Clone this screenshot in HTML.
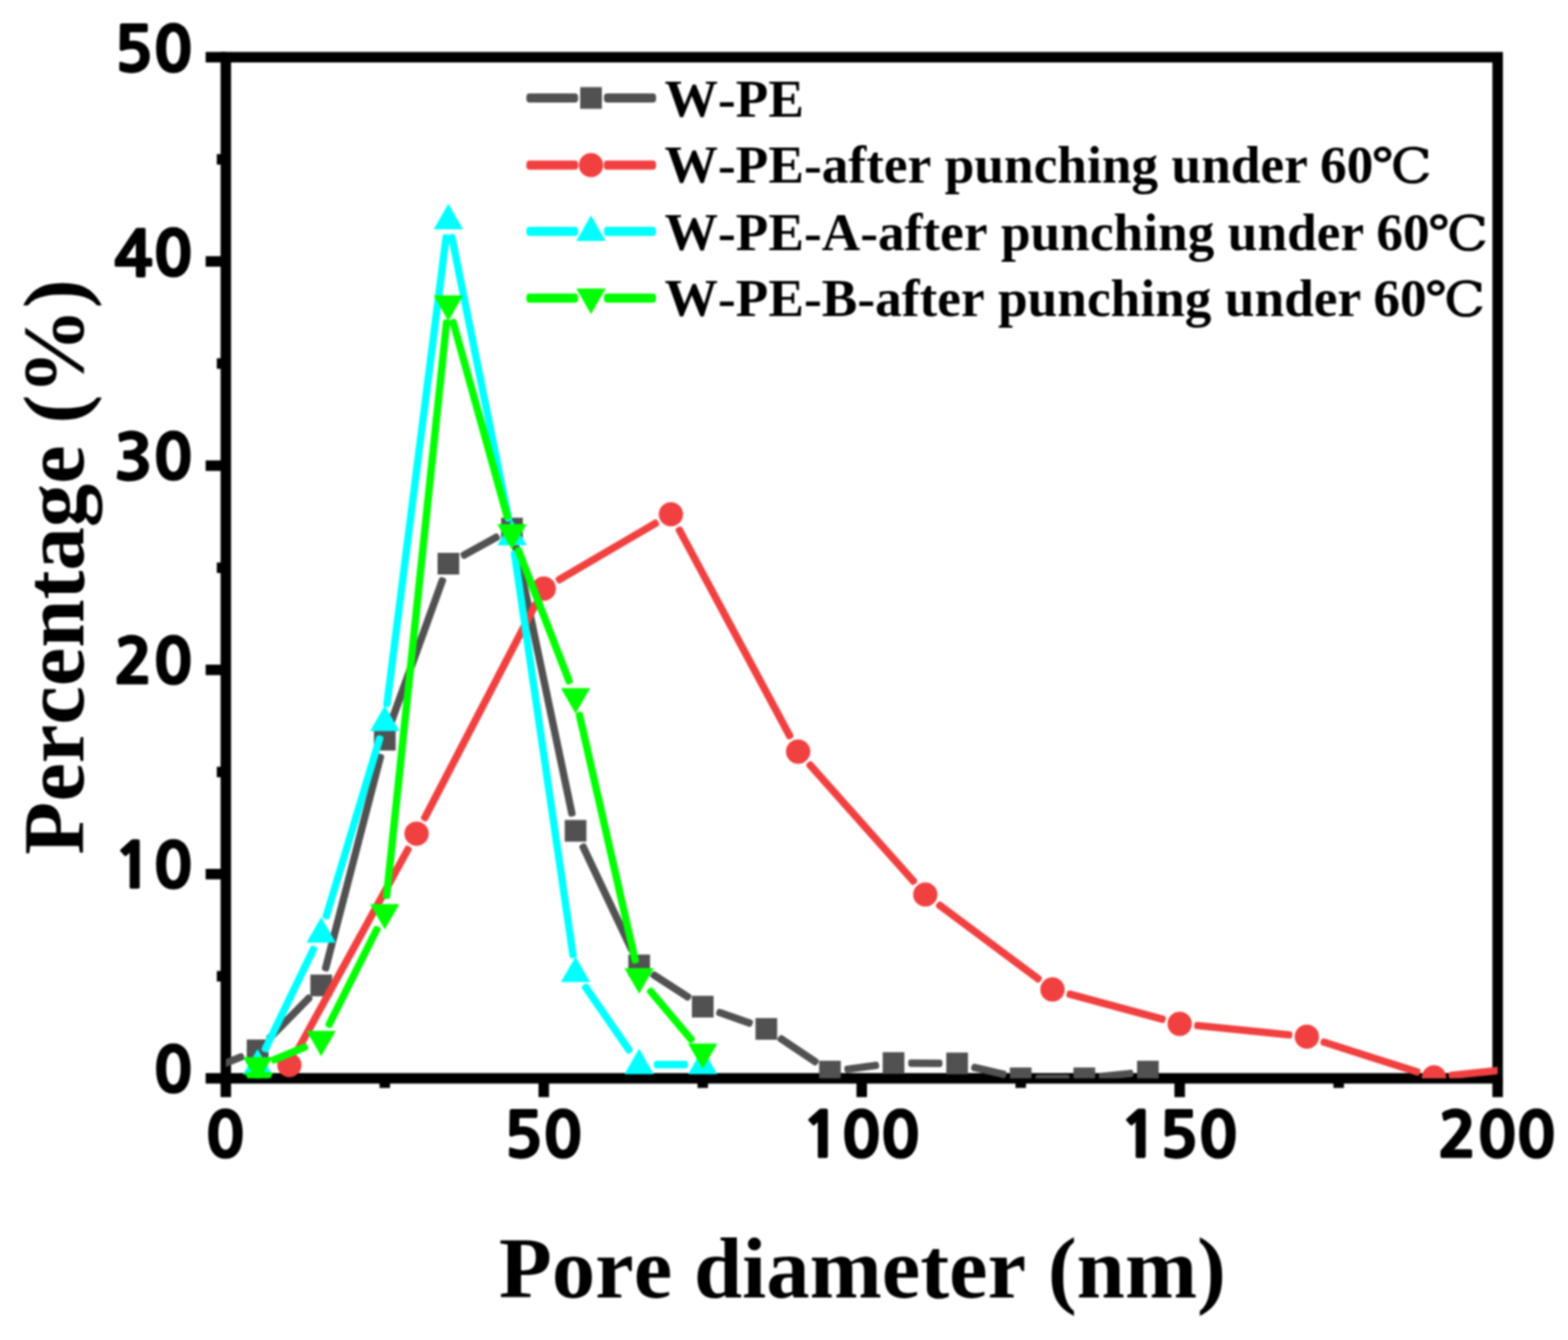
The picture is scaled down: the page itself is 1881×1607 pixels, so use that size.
<!DOCTYPE html>
<html lang="en"><head><meta charset="utf-8"><title>Pore diameter distribution</title>
<style>
html,body{margin:0;padding:0;background:#fff;}
body{width:1881px;height:1607px;overflow:hidden;}
svg{display:block;filter:blur(0.8px);}
.tick{font-family:"NanumGothic","Liberation Sans",sans-serif;font-weight:800;font-size:74.6px;fill:#000;stroke:#000;stroke-width:1.4px;stroke-linejoin:round;}
.lab{font-family:"Liberation Serif","DejaVu Serif",serif;font-weight:bold;font-size:104px;font-kerning:none;fill:#000;}
.leg{font-family:"Liberation Serif","DejaVu Serif",serif;font-weight:bold;font-size:64px;font-kerning:none;fill:#000;}
.deg{font-family:"Liberation Serif","DejaVu Serif","Noto Serif CJK SC",serif;font-weight:normal;font-size:57.5px;stroke:#000;stroke-width:1px;}
</style></head><body>
<svg width="1881" height="1607" viewBox="0 0 1881 1607">
<rect width="1881" height="1607" fill="#fff"/>
<defs><clipPath id="plot"><rect x="270.9" y="68.6" width="1525.7" height="1224.6"/></clipPath></defs>
<g stroke="#000" stroke-width="12.6" fill="none" stroke-linecap="butt">
<rect x="270.9" y="68.6" width="1525.7" height="1224.6"/>
<line x1="246.7" y1="1293.2" x2="270.9" y2="1293.2"/>
<line x1="260.1" y1="1170.74" x2="270.9" y2="1170.74"/>
<line x1="246.7" y1="1048.28" x2="270.9" y2="1048.28"/>
<line x1="260.1" y1="925.82" x2="270.9" y2="925.82"/>
<line x1="246.7" y1="803.36" x2="270.9" y2="803.36"/>
<line x1="260.1" y1="680.9" x2="270.9" y2="680.9"/>
<line x1="246.7" y1="558.44" x2="270.9" y2="558.44"/>
<line x1="260.1" y1="435.98" x2="270.9" y2="435.98"/>
<line x1="246.7" y1="313.52" x2="270.9" y2="313.52"/>
<line x1="260.1" y1="191.06" x2="270.9" y2="191.06"/>
<line x1="246.7" y1="68.6" x2="270.9" y2="68.6"/>
<line x1="270.9" y1="1293.2" x2="270.9" y2="1315.7"/>
<line x1="461.61" y1="1293.2" x2="461.61" y2="1304.7"/>
<line x1="652.32" y1="1293.2" x2="652.32" y2="1315.7"/>
<line x1="843.04" y1="1293.2" x2="843.04" y2="1304.7"/>
<line x1="1033.75" y1="1293.2" x2="1033.75" y2="1315.7"/>
<line x1="1224.46" y1="1293.2" x2="1224.46" y2="1304.7"/>
<line x1="1415.17" y1="1293.2" x2="1415.17" y2="1315.7"/>
<line x1="1605.89" y1="1293.2" x2="1605.89" y2="1304.7"/>
<line x1="1796.6" y1="1293.2" x2="1796.6" y2="1315.7"/>
</g>
<g class="tick">
<text transform="translate(230.6,1310.2) scale(1.04,1)" text-anchor="end">0</text>
<text transform="translate(230.6,1065.28) scale(1.04,1)" text-anchor="end">10</text>
<text transform="translate(230.6,820.36) scale(1.04,1)" text-anchor="end">20</text>
<text transform="translate(230.6,575.44) scale(1.04,1)" text-anchor="end">30</text>
<text transform="translate(230.6,330.52) scale(1.04,1)" text-anchor="end">40</text>
<text transform="translate(230.6,85.6) scale(1.04,1)" text-anchor="end">50</text>
<text transform="translate(269.6,1388.4) scale(1.04,1)" text-anchor="middle">0</text>
<text transform="translate(651.02,1388.4) scale(1.04,1)" text-anchor="middle">50</text>
<text transform="translate(1032.45,1388.4) scale(1.04,1)" text-anchor="middle">100</text>
<text transform="translate(1413.87,1388.4) scale(1.04,1)" text-anchor="middle">150</text>
<text transform="translate(1795.3,1388.4) scale(1.04,1)" text-anchor="middle">200</text>
</g>
<text class="lab" x="598.6" y="1556.2">Pore diameter (nm)</text>
<text class="lab" transform="translate(100,1024.9) rotate(-90)">Percentage (%)</text>
<g clip-path="url(#plot)">
<g fill="#515151">
<rect y="-4.45" width="46.91" height="8.9" rx="3.4" transform="translate(249.11,1283.51) rotate(-21.71)"/>
<rect y="-4.45" width="73.82" height="8.9" rx="3.4" transform="translate(321.36,1247.07) rotate(-45.59)"/>
<rect y="-4.45" width="269.15" height="8.9" rx="3.4" transform="translate(389.74,1164.72) rotate(-75.48)"/>
<rect y="-4.45" width="189.28" height="8.9" rx="3.4" transform="translate(467.59,870.57) rotate(-70.13)"/>
<rect y="-4.45" width="51.94" height="8.9" rx="3.4" transform="translate(553.3,667.49) rotate(-28.91)"/>
<rect y="-4.45" width="335.22" height="8.9" rx="3.4" transform="translate(617.81,651.1) rotate(78.12)"/>
<rect y="-4.45" width="143.32" height="8.9" rx="3.4" transform="translate(697.99,1012.27) rotate(64.7)"/>
<rect y="-4.45" width="55.72" height="8.9" rx="3.4" transform="translate(781.52,1167.34) rotate(32.97)"/>
<rect y="-4.45" width="45.62" height="8.9" rx="3.4" transform="translate(859.65,1213.05) rotate(19.29)"/>
<rect y="-4.45" width="56.67" height="8.9" rx="3.4" transform="translate(933.94,1243.74) rotate(33.86)"/>
<rect y="-4.45" width="41.78" height="8.9" rx="3.4" transform="translate(1013.05,1282.77) rotate(-7.68)"/>
<rect y="-4.45" width="41.09" height="8.9" rx="3.4" transform="translate(1089.49,1274.94) rotate(0.37)"/>
<rect y="-4.45" width="43.15" height="8.9" rx="3.4" transform="translate(1165.31,1279.34) rotate(13.19)"/>
<rect y="-4.45" width="41.09" height="8.9" rx="3.4" transform="translate(1242.06,1293.2) rotate(0)"/>
<rect y="-4.45" width="41.51" height="8.9" rx="3.4" transform="translate(1318.25,1291.35) rotate(-6.05)"/>
</g>
<g>
<rect x="219.76" y="1277.02" width="26" height="26" fill="#515151"/>
<rect x="296.04" y="1246.65" width="26" height="26" fill="#515151"/>
<rect x="372.33" y="1168.76" width="26" height="26" fill="#515151"/>
<rect x="448.61" y="874.12" width="26" height="26" fill="#515151"/>
<rect x="524.9" y="663" width="26" height="26" fill="#515151"/>
<rect x="601.18" y="620.88" width="26" height="26" fill="#515151"/>
<rect x="677.47" y="983.36" width="26" height="26" fill="#515151"/>
<rect x="753.75" y="1144.76" width="26" height="26" fill="#515151"/>
<rect x="830.04" y="1194.23" width="26" height="26" fill="#515151"/>
<rect x="906.32" y="1220.93" width="26" height="26" fill="#515151"/>
<rect x="982.61" y="1272.12" width="26" height="26" fill="#515151"/>
<rect x="1058.89" y="1261.83" width="26" height="26" fill="#515151"/>
<rect x="1135.18" y="1262.32" width="26" height="26" fill="#515151"/>
<rect x="1211.46" y="1280.2" width="26" height="26" fill="#515151"/>
<rect x="1287.75" y="1280.2" width="26" height="26" fill="#515151"/>
<rect x="1364.03" y="1272.12" width="26" height="26" fill="#515151"/>
</g>
<g fill="#F14040">
<rect y="-4.45" width="281.47" height="8.9" rx="3.4" transform="translate(355.66,1261.86) rotate(-61.2)"/>
<rect y="-4.45" width="295.95" height="8.9" rx="3.4" transform="translate(507.86,984.17) rotate(-62.57)"/>
<rect y="-4.45" width="141.51" height="8.9" rx="3.4" transform="translate(667.52,697) rotate(-30.3)"/>
<rect y="-4.45" width="287.71" height="8.9" rx="3.4" transform="translate(813.21,632.24) rotate(61.8)"/>
<rect y="-4.45" width="194.3" height="8.9" rx="3.4" transform="translate(969.17,914.48) rotate(48.33)"/>
<rect y="-4.45" width="155.19" height="8.9" rx="3.4" transform="translate(1124.14,1083.3) rotate(36.74)"/>
<rect y="-4.45" width="122.82" height="8.9" rx="3.4" transform="translate(1279.6,1191.24) rotate(15.09)"/>
<rect y="-4.45" width="118.15" height="8.9" rx="3.4" transform="translate(1432.69,1229.58) rotate(5.77)"/>
<rect y="-4.45" width="124.97" height="8.9" rx="3.4" transform="translate(1584.51,1248.59) rotate(17.72)"/>
<rect y="-4.45" width="118.22" height="8.9" rx="3.4" transform="translate(1737.82,1290.12) rotate(-6.05)"/>
</g>
<g>
<circle cx="347.18" cy="1277.28" r="14.6" fill="#F14040"/>
<circle cx="499.75" cy="999.79" r="14.6" fill="#F14040"/>
<circle cx="652.32" cy="705.88" r="14.6" fill="#F14040"/>
<circle cx="804.89" cy="616.73" r="14.6" fill="#F14040"/>
<circle cx="957.46" cy="901.33" r="14.6" fill="#F14040"/>
<circle cx="1110.03" cy="1072.77" r="14.6" fill="#F14040"/>
<circle cx="1262.6" cy="1186.66" r="14.6" fill="#F14040"/>
<circle cx="1415.17" cy="1227.81" r="14.6" fill="#F14040"/>
<circle cx="1567.74" cy="1243.24" r="14.6" fill="#F14040"/>
<circle cx="1720.31" cy="1291.98" r="14.6" fill="#F14040"/>
<circle cx="1872.88" cy="1275.81" r="14.6" fill="#F14040"/>
</g>
<g fill="#00FFFF">
<rect y="-4.45" width="140.45" height="8.9" rx="3.4" transform="translate(316.69,1261.43) rotate(-64.26)"/>
<rect y="-4.45" width="229.76" height="8.9" rx="3.4" transform="translate(390.39,1102.21) rotate(-73.27)"/>
<rect y="-4.45" width="571.38" height="8.9" rx="3.4" transform="translate(463.83,847.86) rotate(-82.78)"/>
<rect y="-4.45" width="351.53" height="8.9" rx="3.4" transform="translate(541.37,280.81) rotate(78.62)"/>
<rect y="-4.45" width="493.97" height="8.9" rx="3.4" transform="translate(616.72,660.11) rotate(81.71)"/>
<rect y="-4.45" width="99.04" height="8.9" rx="3.4" transform="translate(700.47,1180.81) rotate(55.37)"/>
<rect y="-4.45" width="41.09" height="8.9" rx="3.4" transform="translate(784.35,1276.79) rotate(0)"/>
</g>
<g>
<polygon points="309.04,1258.08 326.64,1288.68 291.44,1288.68" fill="#00FFFF"/>
<polygon points="385.33,1099.86 402.93,1130.46 367.73,1130.46" fill="#00FFFF"/>
<polygon points="461.61,846.12 479.21,876.72 444.01,876.72" fill="#00FFFF"/>
<polygon points="537.9,244.36 555.5,274.96 520.3,274.96" fill="#00FFFF"/>
<polygon points="614.18,623.49 631.78,654.09 596.58,654.09" fill="#00FFFF"/>
<polygon points="690.47,1147.13 708.07,1177.73 672.87,1177.73" fill="#00FFFF"/>
<polygon points="766.75,1257.59 784.35,1288.19 749.15,1288.19" fill="#00FFFF"/>
<polygon points="843.04,1257.59 860.64,1288.19 825.44,1288.19" fill="#00FFFF"/>
</g>
<g fill="#00FF00">
<rect y="-4.45" width="47.37" height="8.9" rx="3.4" transform="translate(325.3,1272.5) rotate(-22.5)"/>
<rect y="-4.45" width="134.95" height="8.9" rx="3.4" transform="translate(393.22,1231.91) rotate(-63.36)"/>
<rect y="-4.45" width="698.64" height="8.9" rx="3.4" transform="translate(463.44,1078.04) rotate(-84.03)"/>
<rect y="-4.45" width="249.52" height="8.9" rx="3.4" transform="translate(542.61,382.64) rotate(74.46)"/>
<rect y="-4.45" width="175.75" height="8.9" rx="3.4" transform="translate(620.55,656.41) rotate(68.8)"/>
<rect y="-4.45" width="309.14" height="8.9" rx="3.4" transform="translate(694.37,853.83) rotate(77.2)"/>
<rect y="-4.45" width="83.07" height="8.9" rx="3.4" transform="translate(778.1,1185.9) rotate(49.83)"/>
</g>
<g>
<polygon points="309.04,1298.44 326.64,1267.84 291.44,1267.84" fill="#00FF00"/>
<polygon points="385.33,1266.84 402.93,1236.24 367.73,1236.24" fill="#00FF00"/>
<polygon points="461.61,1114.75 479.21,1084.15 444.01,1084.15" fill="#00FF00"/>
<polygon points="537.9,384.89 555.5,354.29 520.3,354.29" fill="#00FF00"/>
<polygon points="614.18,659.2 631.78,628.6 596.58,628.6" fill="#00FF00"/>
<polygon points="690.47,855.87 708.07,825.27 672.87,825.27" fill="#00FF00"/>
<polygon points="766.75,1191.65 784.35,1161.05 749.15,1161.05" fill="#00FF00"/>
<polygon points="843.04,1282.03 860.64,1251.43 825.44,1251.43" fill="#00FF00"/>
<polygon points="310.57,1316.56 328.17,1285.96 292.97,1285.96" fill="#00FF00"/>
</g>
</g>
<g fill="#515151">
<rect x="631.5" y="112" width="62" height="11" rx="4"/>
<rect x="724.5" y="112" width="62.5" height="11" rx="4"/>
</g>
<rect x="696" y="104.5" width="26" height="26" fill="#515151"/>
<text class="leg" x="797.3" y="140">W-PE</text>
<g fill="#F14040">
<rect x="631.5" y="192.5" width="62" height="11" rx="4"/>
<rect x="724.5" y="192.5" width="62.5" height="11" rx="4"/>
</g>
<circle cx="709" cy="198" r="14.6" fill="#F14040"/>
<text class="leg" x="797.3" y="218.8">W-PE-after punching under <tspan dx="-1.5">60</tspan><tspan class="deg" dx="-2" textLength="72" lengthAdjust="spacingAndGlyphs">℃</tspan></text>
<g fill="#00FFFF">
<rect x="631.5" y="272" width="62" height="11" rx="4"/>
<rect x="724.5" y="272" width="62.5" height="11" rx="4"/>
</g>
<polygon points="709,258.3 726.6,288.9 691.4,288.9" fill="#00FFFF"/>
<text class="leg" x="797.3" y="300">W-PE-A-after punching under <tspan dx="-1.5">60</tspan><tspan class="deg" dx="-2" textLength="72" lengthAdjust="spacingAndGlyphs">℃</tspan></text>
<g fill="#00FF00">
<rect x="631.5" y="352" width="62" height="11" rx="4"/>
<rect x="724.5" y="352" width="62.5" height="11" rx="4"/>
</g>
<polygon points="709,376.7 726.6,346.1 691.4,346.1" fill="#00FF00"/>
<text class="leg" x="797.3" y="378.8">W-PE-B-after punching under <tspan dx="-1.5">60</tspan><tspan class="deg" dx="-2" textLength="72" lengthAdjust="spacingAndGlyphs">℃</tspan></text>
</svg>
</body></html>
